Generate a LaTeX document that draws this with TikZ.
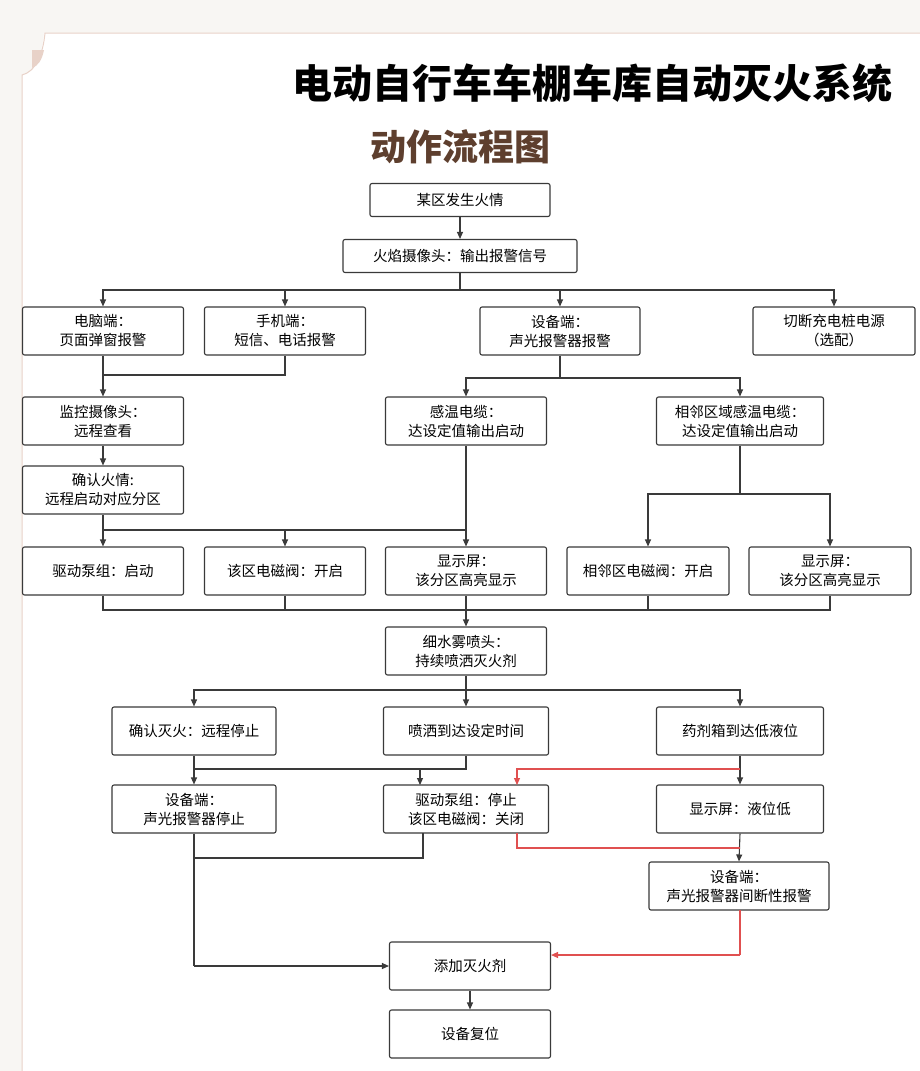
\documentclass[tikz,border=0pt]{standalone}
\usepackage{fontspec}
\setmainfont{Noto Sans CJK SC}
\usetikzlibrary{arrows.meta}
\definecolor{frm}{HTML}{E8D2C8}
\definecolor{brn}{HTML}{5E3F2E}
\definecolor{ln}{HTML}{3A3A3A}
\definecolor{rd}{HTML}{E05050}
\begin{document}
\begin{tikzpicture}[x=1pt,y=-1pt,
 box/.style={draw=ln,line width=1.1pt,rounded corners=2pt,fill=white,align=center,font=\fontsize{14.5}{19}\selectfont,inner sep=0pt},
 ar/.style={draw=ln,line width=1.1pt,-{Triangle[length=7pt,width=6pt]}},
 l/.style={draw=ln,line width=1.1pt},
 rar/.style={draw=rd,line width=1.1pt,-{Triangle[length=7pt,width=6pt]}},
 rl/.style={draw=rd,line width=1.1pt}]
\useasboundingbox (0,0) rectangle (920,1071);
\fill[color={rgb,255:red,248;green,246;blue,243}] (0,0) rectangle (920,1071);
\fill[white] (40,33) -- (920,33) -- (920,1071) -- (22,1071) -- (22,75) .. controls (35,72) and (42,55) .. (44,33);
\draw[frm,line width=1pt] (920,33) -- (45,33) .. controls (43,55) and (35,72) .. (22,75) -- (22,1071);
\fill[frm] (32,50) -- (44,50) .. controls (42,60) and (38,66) .. (32,68) -- cycle;
\node[font=\fontsize{40}{42}\selectfont\bfseries] (t) at (592,83) {电动自行车车棚车库自动灭火系统};
\node[font=\fontsize{36}{38}\selectfont\bfseries,text=brn] (st) at (460,147) {动作流程图};
% nodes
\node[box,minimum width=180,minimum height=33] (a) at (460,200) {某区发生火情};
\node[box,minimum width=234,minimum height=33] (b) at (460,256) {火焰摄像头：输出报警信号};
\node[box,minimum width=161,minimum height=48] (c1) at (103,331) {电脑端：\\页面弹窗报警};
\node[box,minimum width=161,minimum height=48] (c2) at (285,331) {手机端：\\短信、电话报警};
\node[box,minimum width=160,minimum height=48] (c3) at (560,331) {设备端：\\声光报警器报警};
\node[box,minimum width=162,minimum height=48] (c4) at (834,331) {切断充电桩电源\\（选配）};
\node[box,minimum width=161,minimum height=48] (d1) at (103,421) {监控摄像头：\\远程查看};
\node[box,minimum width=161,minimum height=48] (d2) at (466,421) {感温电缆：\\达设定值输出启动};
\node[box,minimum width=167,minimum height=48] (d3) at (740,421) {相邻区域感温电缆：\\达设定值输出启动};
\node[box,minimum width=161,minimum height=48] (e1) at (103,490) {确认火情:\\远程启动对应分区};
\node[box,minimum width=161,minimum height=48] (f1) at (103,571) {驱动泵组：启动};
\node[box,minimum width=161,minimum height=48] (f2) at (285,571) {该区电磁阀：开启};
\node[box,minimum width=161,minimum height=48] (f3) at (466,571) {显示屏：\\该分区高亮显示};
\node[box,minimum width=162,minimum height=48] (f4) at (648,571) {相邻区电磁阀：开启};
\node[box,minimum width=162,minimum height=48] (f5) at (830,571) {显示屏：\\该分区高亮显示};
\node[box,minimum width=161,minimum height=48] (g) at (466,651) {细水雾喷头：\\持续喷洒灭火剂};
\node[box,minimum width=164,minimum height=48] (h1) at (194,731) {确认灭火：远程停止};
\node[box,minimum width=165,minimum height=48] (h2) at (466,731) {喷洒到达设定时间};
\node[box,minimum width=167,minimum height=48] (h3) at (740,731) {药剂箱到达低液位};
\node[box,minimum width=164,minimum height=48] (i1) at (194,809) {设备端：\\声光报警器停止};
\node[box,minimum width=165,minimum height=48] (i2) at (466,809) {驱动泵组：停止\\该区电磁阀：关闭};
\node[box,minimum width=167,minimum height=48] (i3) at (740,809) {显示屏：液位低};
\node[box,minimum width=180,minimum height=48] (j) at (739,886) {设备端：\\声光报警器间断性报警};
\node[box,minimum width=161,minimum height=48] (k) at (470,966) {添加灭火剂};
\node[box,minimum width=161,minimum height=48] (m) at (470,1034) {设备复位};
% connectors
\coordinate (p1) at (460,290);
\draw[ar] (a) -- (b);
\draw[l] (b.south) -- (p1);
\draw[ar] (p1) -| (c1.north);
\draw[ar] (p1) -| (c2.north);
\draw[ar] (p1) -| (c3.north);
\draw[ar] (p1) -| (c4.north);
\coordinate (p2) at (103,375);
\draw[l] (c2.south) |- (p2);
\draw[ar] (c1.south) -- (d1.north);
\draw[ar] (d1) -- (e1);
\coordinate (p3) at (560,378);
\draw[l] (c3.south) -- (p3);
\draw[ar] (p3) -| (d2.north);
\draw[ar] (p3) -| (d3.north);
\coordinate (p4) at (103,530);
\coordinate (p4b) at (466,530);
\draw[l] (e1.south) -- (p4) -- (p4b);
\draw[l] (d2.south) -- (p4b);
\draw[ar] (p4) -- (f1.north);
\draw[ar] (285,530) -- (f2.north);
\draw[ar] (p4b) -- (f3.north);
\coordinate (p5) at (740,494);
\draw[l] (d3.south) -- (p5);
\draw[ar] (p5) -| (f4.north);
\draw[ar] (p5) -| (f5.north);
\coordinate (p6) at (466,610);
\draw[l] (f1.south) |- (p6);
\draw[l] (f5.south) |- (p6);
\draw[l] (f2.south) -- (285,610);
\draw[l] (f4.south) -- (648,610);
\draw[ar] (f3.south) -- (g.north);
\coordinate (p7) at (466,690);
\draw[l] (g.south) -- (p7);
\draw[ar] (p7) -| (h1.north);
\draw[ar] (p7) -- (h2.north);
\draw[ar] (p7) -| (h3.north);
\coordinate (p8) at (194,769);
\draw[l] (h2.south) |- (p8);
\draw[ar] (h1.south) -- (i1.north);
\draw[ar] (420,769) -- (420,785);
\coordinate (p9) at (740,769);
\draw[ar] (h3.south) -- (i3.north);
\draw[rar] (p9) -| (517,785);
\draw[ar] (i3.south) -- (j.north);
\coordinate (p10) at (740,848);
\draw[rl] (517,833) |- (p10);
\coordinate (p11) at (740,955);
\draw[rl] (740,910) -- (p11);
\draw[rar] (p11) -- (k.east |- p11);
\coordinate (p12) at (194,966);
\draw[l] (423,833) |- (194,858);
\draw[l] (i1.south) -- (p12);
\draw[ar] (p12) -- (k.west);
\draw[ar] (k) -- (m);
\end{tikzpicture}
\end{document}
